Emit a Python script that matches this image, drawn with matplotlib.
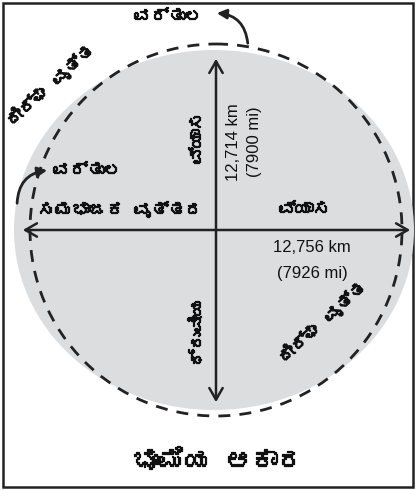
import matplotlib.pyplot as plt
import matplotlib.patheffects as pe
from matplotlib import font_manager
from matplotlib.ft2font import FT2Font
from matplotlib.patches import Ellipse, Circle, Rectangle, FancyArrowPatch

# ------------------------------------------------------------
# Labels and values of the diagram (shape of the Earth)
# ------------------------------------------------------------
title = "ಭೂಮಿಯ ಆಕಾರ"
circle_label = "ವರ್ತುಲ"
ellipse_label = "ದೀರ್ಘ ವೃತ್ತ"
equator_labels = ["ಸಮಭಾಜಕ ವೃತ್ತದ", "ವ್ಯಾಸ"]
polar_labels = ["ಧ್ರುವೀಯ", "ವ್ಯಾಸ"]

equator_km = 12756
equator_mi = 7926
polar_km = 12714
polar_mi = 7900

W, H = 416, 490


def find_kannada_font():
    # pick any installed font that has Kannada glyphs
    for f in font_manager.fontManager.ttflist:
        try:
            if 0x0C95 in FT2Font(f.fname).get_charmap():
                return f.name
        except Exception:
            pass
    return "DejaVu Sans"


kn = [find_kannada_font(), "DejaVu Sans"]
num = ["Liberation Sans", "DejaVu Sans"]
# the Kannada font has no bold face, so thicken it with a stroke
bold = [pe.withStroke(linewidth=0.9, foreground="#111111")]

fig = plt.figure(figsize=(W / 100, H / 100), dpi=100)
ax = fig.add_axes([0, 0, 1, 1])
ax.set_xlim(0, W)
ax.set_ylim(H, 0)
ax.axis("off")

# frame
ax.add_patch(Rectangle((3, 3), 410, 484, fill=False, ec="#222222", lw=1.8))

# grey ellipse (the real earth) and dashed circle
cx, cy = 214, 230
ax.add_patch(Ellipse((cx, cy), 400, 360, fc="#dcdddf", ec="none"))
ax.add_patch(Circle((216, cy), 186, fill=False, ec="#222222", lw=2,
                    linestyle=(0, (4.3, 3.3))))

# diameters
head = "<->,head_length=0.7,head_width=0.4"
ax.add_patch(FancyArrowPatch((20, cy), (413, cy), arrowstyle=head,
                             mutation_scale=12, lw=1.8, color="#222222"))
ax.add_patch(FancyArrowPatch((216, 56), (216, 405), arrowstyle=head,
                             mutation_scale=12, lw=1.8, color="#222222"))

# curved pointers to the circle
ax.add_patch(FancyArrowPatch((248, 46), (214, 13), arrowstyle="-|>",
                             connectionstyle="arc3,rad=0.45",
                             mutation_scale=14, lw=2, color="#222222"))
ax.add_patch(FancyArrowPatch((17, 206), (50, 170), arrowstyle="-|>",
                             connectionstyle="arc3,rad=-0.45",
                             mutation_scale=14, lw=2, color="#222222"))

# Kannada labels
kw = dict(family=kn, ha="center", va="center", color="#111111",
          path_effects=bold)
ax.text(168, 16, circle_label, fontsize=12.5, **kw)
ax.text(87, 170, circle_label, fontsize=12.5, **kw)
ax.text(120, 209, equator_labels[0], fontsize=12.5, **kw)
ax.text(304, 209, equator_labels[1], fontsize=12.5, **kw)
ax.text(197, 332, polar_labels[0], fontsize=12.5, rotation=90, **kw)
ax.text(197, 138, polar_labels[1], fontsize=12.5, rotation=90, **kw)
ax.text(50, 85, ellipse_label, fontsize=12.5, rotation=42, **kw)
ax.text(322, 322, ellipse_label, fontsize=12.5, rotation=42, **kw)
ax.text(218, 460, title, fontsize=19, **kw)

# measurements
ax.text(312, 247, f"{equator_km:,} km", family=num, fontsize=12,
        ha="center", va="center", color="#111111")
ax.text(312, 273, f"({equator_mi} mi)", family=num, fontsize=12,
        ha="center", va="center", color="#111111")
ax.text(234, 142, f"{polar_km:,} km", family=num, fontsize=12,
        ha="center", va="center", rotation=90, color="#111111")
ax.text(254, 142, f"({polar_mi} mi)", family=num, fontsize=12,
        ha="center", va="center", rotation=90, color="#111111")

fig.savefig("out.png", dpi=100)
